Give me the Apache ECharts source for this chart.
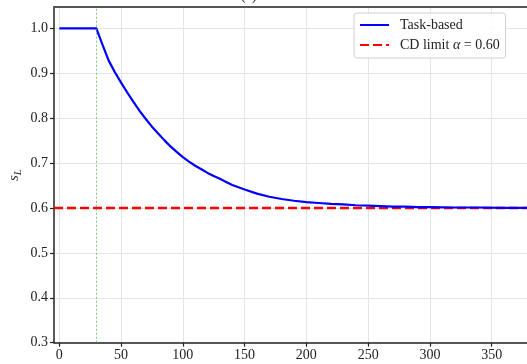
<!DOCTYPE html>
<html>
<head>
<meta charset="utf-8">
<script src="https://cdn.jsdelivr.net/npm/echarts@6/dist/echarts.min.js"></script>
<style>
html,body{margin:0;padding:0;background:#fff;}
#chart{width:527px;height:364px;}
</style>
</head>
<body>
<div id="chart"></div>
<script>
// ---- data ----
const xValues = [0, 10, 20, 30, 35, 40, 45, 50, 55, 60, 65, 70, 75, 80, 85, 90, 95, 100, 105, 110, 115, 120, 125, 130, 135, 140, 145, 150, 160, 170, 180, 190, 200, 210, 220, 230, 240, 250, 260, 270, 280, 290, 300, 320, 340, 360, 380];
const taskBased = [1.0, 1.0, 1.0, 1.0, 0.963, 0.928, 0.902, 0.879, 0.857, 0.836, 0.816, 0.798, 0.781, 0.766, 0.751, 0.737, 0.725, 0.713, 0.703, 0.694, 0.686, 0.678, 0.671, 0.665, 0.658, 0.651, 0.646, 0.641, 0.632, 0.625, 0.620, 0.616, 0.613, 0.611, 0.609, 0.608, 0.606, 0.605, 0.604, 0.603, 0.603, 0.602, 0.602, 0.601, 0.601, 0.600, 0.600];
const limitX = [-4.3, 378.6];
const limitY = [0.6, 0.6];
const alphaValue = '0.60';
const transitionX = 30;
const xTicks = [0, 50, 100, 150, 200, 250, 300, 350];
const yTicks = [0.3, 0.4, 0.5, 0.6, 0.7, 0.8, 0.9, 1.0];
const xRange = [-4.3, 378.6];
const yRange = [0.3, 1.0474];

const serif = 'Liberation Serif, DejaVu Serif, serif';
const chart = echarts.init(document.getElementById('chart'));
chart.setOption({
  animation: false,
  backgroundColor: '#fff',
  title: {
    text: '(a)', left: 236, top: -16,
    textStyle: {fontFamily: serif, fontSize: 14, fontWeight: 'normal', color: '#222'}
  },
  graphic: [{
    type: 'text', x: 15, y: 175, rotation: Math.PI / 2,
    style: {
      text: '{s|s}{sub|L}', align: 'center', verticalAlign: 'middle',
      rich: {
        s: {fontFamily: serif, fontSize: 15, fontStyle: 'italic', fill: '#333', verticalAlign: 'top'},
        sub: {fontFamily: serif, fontSize: 11, fontStyle: 'italic', fill: '#333', verticalAlign: 'bottom', padding: [6, 0, 0, 0]}
      }
    }
  }],
  grid: {left: 54, top: 7, right: 0, bottom: 21.3, containLabel: false, outerBoundsMode: 'none'},
  legend: {
    orient: 'vertical', left: 354, top: 13,
    itemWidth: 29, itemHeight: 14, itemGap: 6,
    padding: [5, 6, 6, 5],
    backgroundColor: 'rgba(255,255,255,0.85)',
    borderColor: '#d0d0d0', borderWidth: 1, borderRadius: 3,
    itemStyle: {opacity: 0},
    textStyle: {
      fontFamily: serif, fontSize: 14, color: '#222', padding: [0, 0, 0, 6],
      rich: {
        n: {fontFamily: serif, fontSize: 14, color: '#222'},
        i: {fontFamily: serif, fontSize: 14, fontStyle: 'italic', color: '#222'}
      }
    },
    formatter: function (name) {
      if (name === 'Task-based') return '{n|Task-based}';
      return '{n|CD limit }{i|α}{n| = ' + alphaValue + '}';
    },
    data: ['Task-based', 'CD limit']
  },
  xAxis: [{
    type: 'value', min: xRange[0], max: xRange[1],
    axisLine: {show: true, onZero: false, lineStyle: {color: '#222', width: 1.5}},
    axisTick: {show: true, length: 4, customValues: xTicks, lineStyle: {color: '#222', width: 1.2}},
    axisLabel: {customValues: xTicks, margin: 6, fontFamily: serif, fontSize: 14, color: '#222'},
    splitLine: {show: true, lineStyle: {color: '#e4e4e4', width: 1}}
  }, {
    type: 'value', position: 'top', min: xRange[0], max: xRange[1],
    axisLine: {show: true, onZero: false, lineStyle: {color: '#555', width: 2}},
    axisTick: {show: false}, axisLabel: {show: false}, splitLine: {show: false}
  }],
  yAxis: {
    type: 'value', min: yRange[0], max: yRange[1],
    axisLine: {show: true, onZero: false, lineStyle: {color: '#222', width: 1.5}},
    axisTick: {show: true, length: 4, customValues: yTicks, lineStyle: {color: '#222', width: 1.2}},
    axisLabel: {customValues: yTicks, margin: 6, fontFamily: serif, fontSize: 14, color: '#222',
      formatter: v => v.toFixed(1)},
    splitLine: {show: true, lineStyle: {color: '#e4e4e4', width: 1}}
  },
  series: [{
    name: 'Task-based', type: 'line', showSymbol: false, symbol: 'none',
    data: xValues.map((x, i) => [x, taskBased[i]]),
    lineStyle: {color: '#0000ff', width: 2.2, join: 'round'},
    itemStyle: {color: '#0000ff'},
    z: 3,
    markLine: {
      silent: true, symbol: 'none', label: {show: false},
      lineStyle: {color: 'rgba(60,170,60,0.8)', width: 0.8, type: [2, 2]},
      data: [{xAxis: transitionX}]
    }
  }, {
    name: 'CD limit', type: 'line', showSymbol: false, symbol: 'none',
    data: limitX.map((x, i) => [x, limitY[i]]),
    lineStyle: {color: '#ff0000', width: 2.5, type: [9, 4]},
    itemStyle: {color: '#ff0000'},
    z: 2
  }]
});
</script>
</body>
</html>
